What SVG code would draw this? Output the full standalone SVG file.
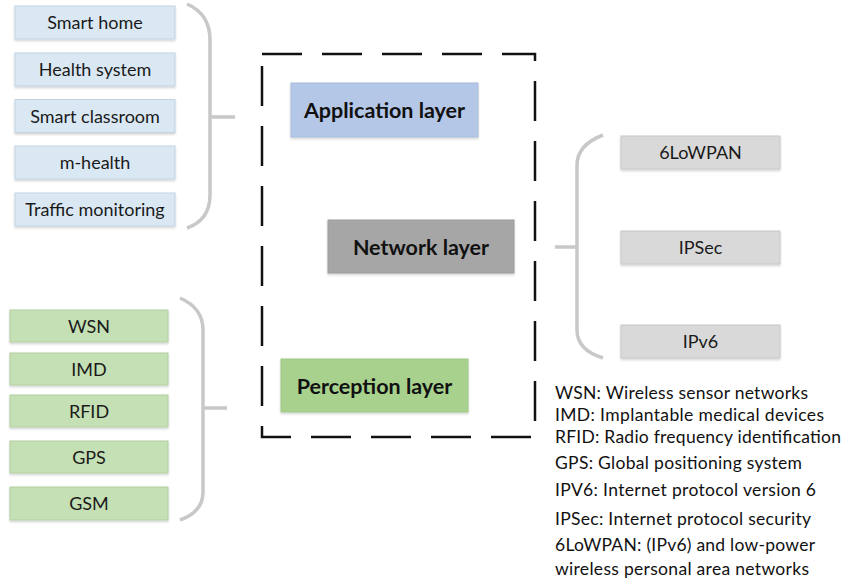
<svg xmlns="http://www.w3.org/2000/svg" width="845" height="585" viewBox="0 0 845 585">
<defs>
<filter id="sh" x="-5%" y="-10%" width="110%" height="130%">
<feDropShadow dx="0" dy="1.5" stdDeviation="1" flood-color="#000" flood-opacity="0.18"/>
</filter>
<style>
.app{fill:#dae8f4;stroke:#c3d3e2;stroke-width:1;filter:url(#sh)}
.per{fill:#c5e0b4;stroke:#b3cfa2;stroke-width:1;filter:url(#sh)}
.net{fill:#d9d9d9;stroke:#c8c8c8;stroke-width:1;filter:url(#sh)}
.lbl{font-family:Lato,"Liberation Sans",sans-serif;font-size:18px;fill:#1a1a1a;text-anchor:middle}
.big{font-family:Lato,"Liberation Sans",sans-serif;font-size:21.5px;font-weight:bold;fill:#111;text-anchor:middle}
.leg{font-family:Lato,"Liberation Sans",sans-serif;font-size:17.5px;fill:#111}
.br{fill:none;stroke:#c8c8c8;stroke-width:3.5}
</style>
</defs>

<g id="frame">
<rect x="262" y="54" width="273" height="383" fill="none" stroke="#111" stroke-width="2.5" stroke-dasharray="40 20"/>
</g>

<g id="application-layer">
<rect x="291" y="83" width="187" height="54" fill="#b4c7e7" stroke="#a9bcdc" filter="url(#sh)"/>
<text class="big" x="384.5" y="117.5">Application layer</text>
</g>
<g id="network-layer">
<rect x="328" y="220" width="186" height="53" fill="#a6a6a6" stroke="#9c9c9c" filter="url(#sh)"/>
<text class="big" x="421" y="254.5">Network layer</text>
</g>
<g id="perception-layer">
<rect x="281" y="359" width="187" height="53" fill="#a9d18e" stroke="#9fc685" filter="url(#sh)"/>
<text class="big" x="374.5" y="393.5">Perception layer</text>
</g>

<g id="app-smart-home"><rect class="app" x="15" y="6" width="160" height="33"/><text class="lbl" x="95" y="29">Smart home</text></g>
<g id="app-health-system"><rect class="app" x="15" y="53" width="160" height="33"/><text class="lbl" x="95" y="76">Health system</text></g>
<g id="app-smart-classroom"><rect class="app" x="15" y="99.5" width="160" height="33"/><text class="lbl" x="95" y="122.5">Smart classroom</text></g>
<g id="app-m-health"><rect class="app" x="15" y="146" width="160" height="33"/><text class="lbl" x="95" y="169">m-health</text></g>
<g id="app-traffic"><rect class="app" x="15" y="193" width="160" height="33"/><text class="lbl" x="95" y="216">Traffic monitoring</text></g>

<g id="per-wsn"><rect class="per" x="10" y="310" width="158" height="32"/><text class="lbl" x="89" y="332.5">WSN</text></g>
<g id="per-imd"><rect class="per" x="10" y="353" width="158" height="32"/><text class="lbl" x="89" y="375.5">IMD</text></g>
<g id="per-rfid"><rect class="per" x="10" y="395" width="158" height="32"/><text class="lbl" x="89" y="417.5">RFID</text></g>
<g id="per-gps"><rect class="per" x="10" y="441" width="158" height="32"/><text class="lbl" x="89" y="463.5">GPS</text></g>
<g id="per-gsm"><rect class="per" x="10" y="487" width="158" height="33"/><text class="lbl" x="89" y="510">GSM</text></g>

<g id="net-6lowpan"><rect class="net" x="621" y="136" width="159" height="33"/><text class="lbl" x="700.5" y="159">6LoWPAN</text></g>
<g id="net-ipsec"><rect class="net" x="621" y="231" width="159" height="33"/><text class="lbl" x="700.5" y="254">IPSec</text></g>
<g id="net-ipv6"><rect class="net" x="621" y="325" width="159" height="33"/><text class="lbl" x="700.5" y="348">IPv6</text></g>

<g id="connectors">
<path class="br" d="M187 4 Q210 14 210 40 L210 195 Q210 220 187 228 M210 117 L235 117"/>
<path class="br" d="M180 298 Q203 308 203 330 L203 492 Q203 512 180 520 M203 408 L227 408"/>
<path class="br" d="M603 135 Q577 145 577 165 L577 330 Q577 350 603 358 M555 247 L577 247"/>
</g>

<g id="legend">
<text class="leg" x="555" y="399" textLength="253">WSN: Wireless sensor networks</text>
<text class="leg" x="555" y="421" textLength="269">IMD: Implantable medical devices</text>
<text class="leg" x="555" y="443" textLength="286">RFID: Radio frequency identification</text>
<text class="leg" x="555" y="469" textLength="247">GPS: Global positioning system</text>
<text class="leg" x="555" y="496" textLength="261">IPV6: Internet protocol version 6</text>
<text class="leg" x="555" y="525" textLength="256">IPSec: Internet protocol security</text>
<text class="leg" x="555" y="551" textLength="260">6LoWPAN: (IPv6) and low-power</text>
<text class="leg" x="555" y="575" textLength="254">wireless personal area networks</text>
</g>
</svg>
